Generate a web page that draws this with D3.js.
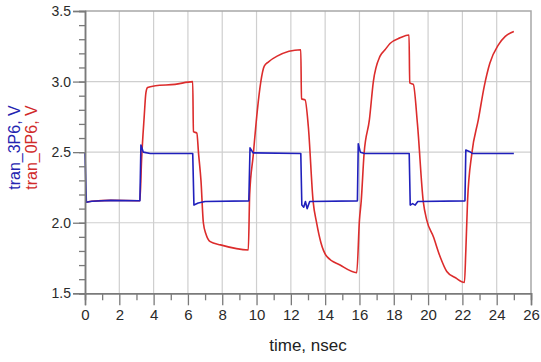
<!DOCTYPE html>
<html>
<head>
<meta charset="utf-8">
<script src="https://cdn.jsdelivr.net/npm/d3@7"></script>
<style>
  body { margin: 0; background: #fff; }
  svg { display: block; font-family: Arial, "Liberation Sans", sans-serif; }
</style>
</head>
<body>
<div id="chart"></div>
<script>
// tran_3P6 (blue) : [time ns, volts]
const tran3P6 = [
  [0, 2.50], [0.08, 2.145], [0.4, 2.152], [1.5, 2.158], [3.2, 2.156],
  [3.26, 2.55], [3.4, 2.50], [3.8, 2.49], [6.28, 2.49], [6.35, 2.125],
  [6.6, 2.14], [7.0, 2.15], [9.55, 2.155], [9.62, 2.53], [9.8, 2.495],
  [12.58, 2.49], [12.64, 2.125], [12.75, 2.11], [12.85, 2.15], [12.95, 2.10],
  [13.1, 2.15], [15.88, 2.155], [15.93, 2.56], [16.05, 2.50], [16.3, 2.49],
  [18.9, 2.49], [18.96, 2.125], [19.1, 2.135], [19.25, 2.125], [19.4, 2.15],
  [22.15, 2.155], [22.2, 2.515], [22.4, 2.505], [22.6, 2.49], [25.0, 2.49]
]

// tran_0P6 (red)
const tran0P6 = [
  [0.08, 2.145], [0.4, 2.152], [1.5, 2.158], [3.2, 2.156], [3.3, 2.45],
  [3.45, 2.75], [3.55, 2.92], [3.65, 2.958], [4.1, 2.97], [5.25, 2.98],
  [6.28, 3.0], [6.32, 2.645], [6.52, 2.635], [6.62, 2.49], [6.76, 2.3],
  [6.9, 2.0], [7.05, 1.92], [7.3, 1.866], [7.9, 1.843], [9.52, 1.807],
  [9.6, 2.2], [9.8, 2.47], [10.05, 2.8], [10.25, 3.0], [10.45, 3.11],
  [10.7, 3.14], [11.2, 3.18], [12.58, 3.225], [12.62, 2.878], [12.83, 2.87],
  [13.02, 2.68], [13.3, 2.15], [13.5, 2.0], [13.75, 1.86], [14.1, 1.76],
  [14.87, 1.70], [15.84, 1.646], [16.0, 2.02], [16.1, 2.15], [16.27, 2.49],
  [16.58, 2.73], [16.81, 3.0], [17.2, 3.18], [17.49, 3.225], [17.78, 3.27],
  [18.37, 3.31], [18.89, 3.33], [18.93, 2.99], [19.14, 2.98], [19.38, 2.70],
  [19.72, 2.15], [19.92, 2.02], [20.31, 1.90], [20.7, 1.76], [21.09, 1.655],
  [21.6, 1.61], [22.12, 1.577], [22.2, 1.8], [22.3, 2.15], [22.55, 2.49],
  [22.93, 2.73], [23.28, 2.97], [23.6, 3.13], [24.1, 3.26], [24.5, 3.32],
  [25.0, 3.355]
]

const xTicks = d3.range(0, 27, 2)
const xMinor = d3.range(1, 26, 2)
const yTicks = [1.5, 2.0, 2.5, 3.0, 3.5]
const yMinor = d3.range(15, 36).map(d => d / 10)

const width = 541, height = 362
const margin = {left: 85, right: 10, top: 11, bottom: 68.7}
const plotW = width - margin.left - margin.right
const plotH = height - margin.top - margin.bottom

let svg = d3.select('#chart')
    .append('svg')
    .attr('width', width)
    .attr('height', height)

let g = svg.append('g')
    .attr('transform', `translate(${margin.left},${margin.top})`)

let xScale = d3.scaleLinear().domain([0, 26]).range([0, plotW])
let yScale = d3.scaleLinear().domain([1.5, 3.5]).range([plotH, 0])

// grid
g.append('g').selectAll('line')
    .data(xTicks.slice(1, -1))
    .join('line')
    .attr('x1', d => xScale(d)).attr('x2', d => xScale(d))
    .attr('y1', 0).attr('y2', plotH)
    .attr('stroke', '#cfcfcf').attr('stroke-width', 1.2)

g.append('g').selectAll('line')
    .data(yTicks.slice(1, -1))
    .join('line')
    .attr('y1', d => yScale(d)).attr('y2', d => yScale(d))
    .attr('x1', 0).attr('x2', plotW)
    .attr('stroke', '#cfcfcf').attr('stroke-width', 1.2)

// frame top/right
g.append('path')
    .attr('d', `M0,0H${plotW}V${plotH}`)
    .attr('fill', 'none')
    .attr('stroke', '#a8a8a8')
    .attr('stroke-width', 1.5)

// lines
let line = d3.line()
    .x(d => xScale(d[0]))
    .y(d => yScale(d[1]))

g.append('path')
    .datum(tran0P6)
    .attr('d', line.curve(d3.curveMonotoneX))
    .attr('fill', 'none')
    .attr('stroke', '#dc2c2c')
    .attr('stroke-width', 1.6)
    .attr('stroke-linejoin', 'round')

g.append('path')
    .datum(tran3P6)
    .attr('d', line.curve(d3.curveLinear))
    .attr('fill', 'none')
    .attr('stroke', '#2020bc')
    .attr('stroke-width', 1.6)
    .attr('stroke-linejoin', 'round')

// axes
let xAxis = g.append('g')
    .attr('transform', `translate(0,${plotH})`)
    .call(d3.axisBottom(xScale).tickValues(xTicks).tickSize(12).tickPadding(4).tickFormat(d3.format('d')))
g.append('g')
    .attr('transform', `translate(0,${plotH})`)
    .call(d3.axisBottom(xScale).tickValues(xMinor).tickSize(7).tickFormat(''))

let yAxis = g.append('g')
    .call(d3.axisLeft(yScale).tickValues(yTicks).tickSize(12).tickPadding(2).tickFormat(d3.format('.1f')))
g.append('g')
    .call(d3.axisLeft(yScale).tickValues(yMinor).tickSize(6).tickFormat(''))

g.selectAll('.domain').attr('stroke', '#7a7a7a').attr('stroke-width', 1.5)
g.selectAll('.tick line').attr('stroke', '#7a7a7a').attr('stroke-width', 1.3)
xAxis.selectAll('text').attr('font-size', 15).attr('fill', '#2a2a2a').attr('font-family', 'Arial, Liberation Sans, sans-serif')
yAxis.selectAll('text').attr('font-size', 14).attr('fill', '#2a2a2a').attr('font-family', 'Arial, Liberation Sans, sans-serif')

// titles
svg.append('text')
    .attr('x', 308).attr('y', 351)
    .attr('text-anchor', 'middle')
    .attr('font-size', 17)
    .attr('fill', '#222')
    .text('time, nsec')

svg.append('text')
    .attr('transform', 'translate(20,147.5) rotate(-90)')
    .attr('text-anchor', 'middle')
    .attr('font-size', 16)
    .attr('fill', '#2424b0')
    .text('tran_3P6, V')

svg.append('text')
    .attr('transform', 'translate(36.5,147.5) rotate(-90)')
    .attr('text-anchor', 'middle')
    .attr('font-size', 16)
    .attr('fill', '#d02a2a')
    .text('tran_0P6, V')
</script>
</body>
</html>
